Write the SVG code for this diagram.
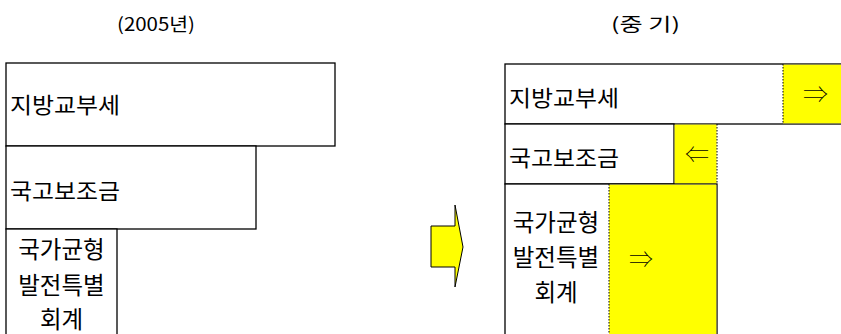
<svg xmlns="http://www.w3.org/2000/svg" width="841" height="334" viewBox="0 0 841 334">
<style>
text{font-family:"Noto Sans CJK KR","Noto Sans",sans-serif;fill:#000}
.lb{font-size:22px}
.ml{font-size:23.5px}
.tt{font-size:18px}
.ar{font-size:24px;font-family:"DejaVu Sans ExtraLight","Noto Sans CJK KR",sans-serif;font-weight:100}
.box{fill:#fff;stroke:#000;stroke-width:1.3}
.yel{fill:#ffff00;stroke:none}
.dot{stroke:#000;stroke-width:1;stroke-dasharray:1.5,1.5}
</style>
<rect width="841" height="334" fill="#fff"/>
<text class="tt" x="117" y="31" textLength="78" lengthAdjust="spacingAndGlyphs">(2005년)</text>
<text class="tt" x="611" y="31" textLength="69" lengthAdjust="spacingAndGlyphs">(중 기)</text>
<g id="left-jibang"><rect class="box" x="6" y="63" width="329" height="83"/><text class="lb" x="10" y="113" textLength="110" lengthAdjust="spacingAndGlyphs">지방교부세</text></g>
<g id="left-gukgo"><rect class="box" x="6" y="146" width="250" height="83"/><text class="lb" x="10" y="199" textLength="110" lengthAdjust="spacingAndGlyphs">국고보조금</text></g>
<g id="left-balance"><rect class="box" x="6" y="229" width="111" height="110"/><text class="ml" text-anchor="middle"><tspan x="61.5" y="258">국가균형</tspan><tspan x="61.5" y="294">발전특별</tspan><tspan x="61.5" y="328">회계</tspan></text></g>
<g id="big-arrow"><path d="M431,226 H455 V205 L463,247 L455,287 V267 H431 Z" fill="#ffff00" stroke="#000" stroke-width="1"/></g>
<g id="right-jibang"><rect class="box" x="505" y="64" width="345" height="60"/><rect class="yel" x="783" y="64.7" width="60" height="58.6"/><line class="dot" x1="783" y1="64" x2="783" y2="124"/><text class="lb" x="509" y="106" textLength="110" lengthAdjust="spacingAndGlyphs">지방교부세</text><text class="ar" x="803" y="103" textLength="25" lengthAdjust="spacingAndGlyphs">⇒</text></g>
<g id="right-gukgo"><rect class="box" x="505" y="124" width="169" height="60"/><rect class="yel" x="674.6" y="124.6" width="42" height="59"/><line class="dot" x1="717" y1="124" x2="717" y2="184"/><text class="lb" x="509" y="166" textLength="110" lengthAdjust="spacingAndGlyphs">국고보조금</text><text class="ar" x="685" y="163" textLength="24" lengthAdjust="spacingAndGlyphs">⇐</text></g>
<g id="right-balance"><rect class="box" x="505" y="184" width="212" height="155"/><rect class="yel" x="609" y="184.7" width="107.3" height="155"/><line class="dot" x1="609" y1="184" x2="609" y2="334"/><text class="ml" text-anchor="middle"><tspan x="556" y="231">국가균형</tspan><tspan x="556" y="266">발전특별</tspan><tspan x="556" y="301">회계</tspan></text><text class="ar" x="629" y="268" textLength="24" lengthAdjust="spacingAndGlyphs">⇒</text></g>
</svg>
